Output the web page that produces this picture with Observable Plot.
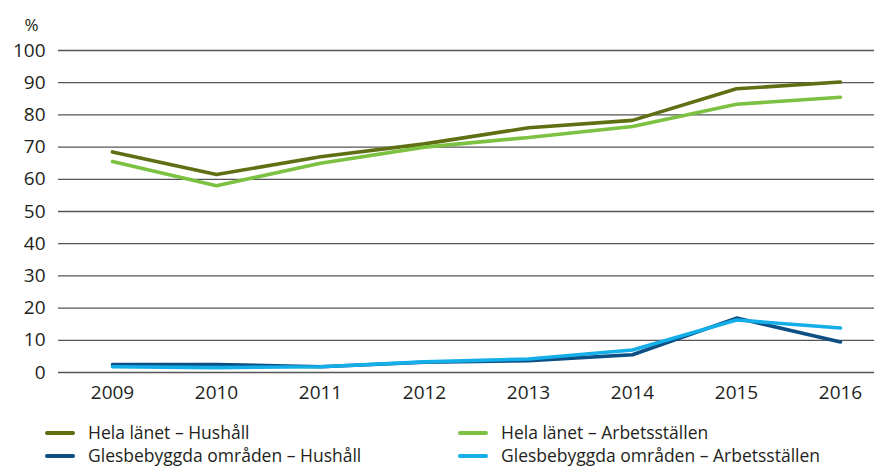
<!DOCTYPE html>
<html><head><meta charset="utf-8">
<script src="https://cdn.jsdelivr.net/npm/d3@7"></script>
<script src="https://cdn.jsdelivr.net/npm/@observablehq/plot@0.6"></script>
<style>
body{margin:0;background:#fff;font-family:"Open Sans",sans-serif;color:#231f20;}
#chart svg{display:block;}
#legend{position:relative;height:62px;font-size:17.5px;line-height:1;}
.item{position:absolute;display:flex;align-items:center;white-space:nowrap;height:20px;line-height:1;}
.sw{display:inline-block;width:30px;height:4px;border-radius:2px;margin-right:13px;}
</style></head><body>
<div id="chart"></div>
<div id="legend"></div>
<script>
const years = [2009, 2010, 2011, 2012, 2013, 2014, 2015, 2016];
const series = [
  "Hela länet – Hushåll",
  "Hela länet – Arbetsställen",
  "Glesbebyggda områden – Hushåll",
  "Glesbebyggda områden – Arbetsställen"
];
const helaHushall = [68.5, 61.5, 67, 71, 76, 78.3, 88.1, 90.2];
const helaArbets = [65.5, 58, 65, 70, 73, 76.4, 83.3, 85.5];
const glesHushall = [2.5, 2.5, 1.8, 3.2, 3.7, 5.5, 16.9, 9.5];
const glesArbets = [1.8, 1.5, 1.8, 3.3, 4.2, 7.0, 16.3, 13.8];
const yTicks = [0, 10, 20, 30, 40, 50, 60, 70, 80, 90, 100];
const colors = ["#5f7014", "#7cc142", "#0b4f85", "#14aee9"];

const valuesBySeries = [helaHushall, helaArbets, glesHushall, glesArbets];
const data = [];
series.forEach((s, i) => years.forEach((yr, j) => data.push({series: s, year: yr, value: valuesBySeries[i][j]})));

const plot = Plot.plot({
  width: 874,
  height: 405,
  marginLeft: 58,
  marginRight: 0,
  marginTop: 50,
  marginBottom: 33,
  style: {fontFamily: "Open Sans, sans-serif", fontSize: "19px", color: "#231f20"},
  x: {type: "point", domain: years, range: [110, 842], padding: 0, label: null, tickSize: 0, tickPadding: 13, tickFormat: d => String(d)},
  y: {domain: [0, 100], ticks: yTicks, label: null, tickSize: 0, tickPadding: 13},
  color: {domain: series, range: colors},
  marks: [
    Plot.ruleY(yTicks, {stroke: "#555", strokeWidth: 1.3}),
    Plot.line(data, {x: "year", y: "value", z: "series", stroke: "series", strokeWidth: 3.6, strokeLinejoin: "miter"}),
    Plot.text(["%"], {frameAnchor: "top-left", dx: -34, dy: -32, fontSize: 17})
  ]
});
document.getElementById("chart").appendChild(plot);

const legend = document.getElementById("legend");
const pos = [[45, 28], [458, 28], [45, 51], [458, 51]];
series.forEach((s, i) => {
  const d = document.createElement("div");
  d.className = "item";
  d.style.left = pos[i][0] + "px";
  d.style.top = (pos[i][1] - 10) + "px";
  d.innerHTML = `<span class="sw" style="background:${colors[i]}"></span><span>${s}</span>`;
  legend.appendChild(d);
});
</script>
</body></html>
